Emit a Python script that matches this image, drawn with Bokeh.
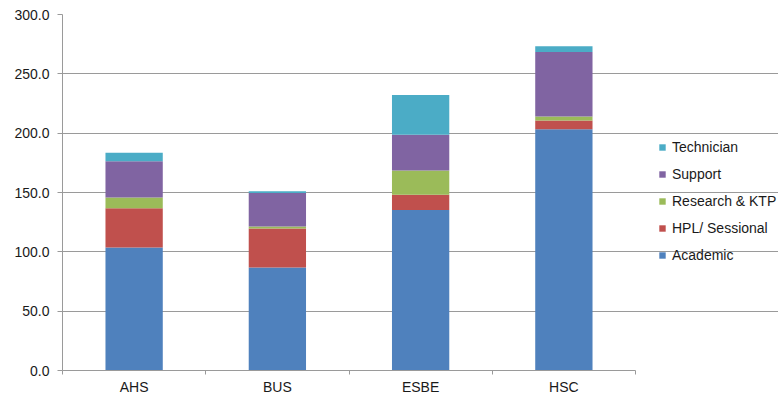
from bokeh.plotting import figure
from bokeh.models import FixedTicker, Legend, LegendItem, ColumnDataSource, CustomJSTickFormatter
from bokeh.embed import file_html
from bokeh.resources import INLINE

schools = ["AHS", "BUS", "ESBE", "HSC"]
academic = [103.7, 86.9, 135.2, 203.4]
hpl_sessional = [33.0, 32.7, 12.9, 7.3]
research_ktp = [9.0, 1.7, 20.4, 3.3]
support = [30.7, 28.2, 30.2, 54.5]
technician = [7.0, 1.6, 33.5, 4.8]

series_names = ["Academic", "HPL/ Sessional", "Research & KTP", "Support", "Technician"]
colors = ["#4F81BD", "#C0504D", "#9BBB59", "#8064A2", "#4BACC6"]
y_ticks = [0, 50, 100, 150, 200, 250, 300]

n = len(schools)
xpos = [i + 0.5 for i in range(n)]
keys = ["academic", "hpl", "research", "support", "technician"]
source = ColumnDataSource(dict(x=xpos, academic=academic, hpl=hpl_sessional,
                               research=research_ktp, support=support,
                               technician=technician))

W, H = 778, 397
left, plot_w = 62, 573
frame_w = W - left
x_end = n * frame_w / plot_w

p = figure(width=W, height=H, output_backend="svg", toolbar_location=None,
           x_range=(0, x_end), y_range=(0, 300),
           min_border_left=left, min_border_right=0, min_border_top=14,
           min_border_bottom=25)
p.outline_line_color = None
p.background_fill_color = "white"

renderers = p.vbar_stack(keys, x="x", width=0.4, source=source, color=colors,
                         line_color=None)

font = "Liberation Sans"
# y axis
p.yaxis.ticker = FixedTicker(ticks=y_ticks)
p.yaxis.formatter = CustomJSTickFormatter(code="return tick.toFixed(1);")
p.yaxis.axis_line_color = "#9a9a9a"
p.yaxis.major_tick_line_color = "#9a9a9a"
p.yaxis.major_tick_out = 5
p.yaxis.major_tick_in = 0
p.yaxis.minor_tick_line_color = None
p.yaxis.major_label_text_font = font
p.yaxis.major_label_text_font_size = "14px"
p.yaxis.major_label_text_color = "#1a1a1a"
p.yaxis.major_label_standoff = 8

# x axis
p.xaxis.bounds = (0, n)
p.xaxis.ticker = FixedTicker(ticks=xpos, minor_ticks=list(range(n + 1)))
p.xaxis.major_label_overrides = {x: s for x, s in zip(xpos, schools)}
p.xaxis.axis_line_color = "#9a9a9a"
p.xaxis.major_tick_line_color = None
p.xaxis.major_tick_out = 4
p.xaxis.major_tick_in = 0
p.xaxis.minor_tick_line_color = "#9a9a9a"
p.xaxis.minor_tick_out = 4
p.xaxis.minor_tick_in = 0
p.xaxis.major_label_text_font = font
p.xaxis.major_label_text_font_size = "14px"
p.xaxis.major_label_text_color = "#1a1a1a"
p.xaxis.major_label_standoff = 4

p.xgrid.grid_line_color = None
p.ygrid.ticker = FixedTicker(ticks=y_ticks)
p.ygrid.bounds = (0, n)
p.ygrid.grid_line_color = "#9a9a9a"
p.ygrid.grid_line_width = 1

items = [LegendItem(label=nm, renderers=[r]) for nm, r in zip(series_names, renderers)]
items = items[::-1]
legend = Legend(items=items, location=(596, 105), padding=0, margin=0,
                border_line_color=None, background_fill_alpha=0,
                glyph_width=8, glyph_height=8, label_standoff=6,
                label_height=20, spacing=7,
                label_text_font=font, label_text_font_size="14px",
                label_text_color="#1a1a1a")
p.add_layout(legend, "center")

open("out.html", "w").write(file_html(p, INLINE))
